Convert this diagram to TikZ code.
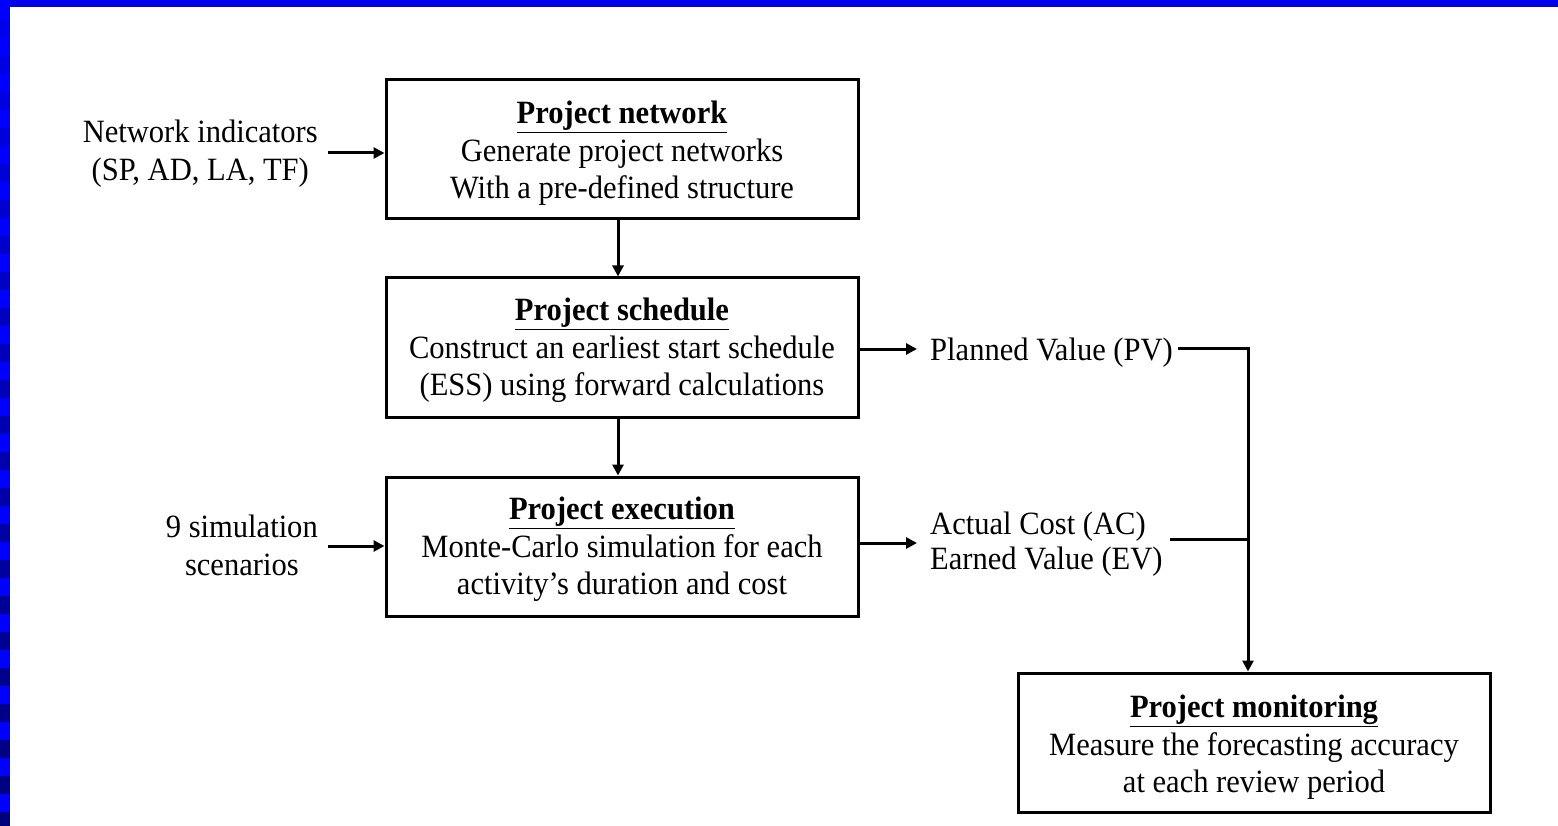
\documentclass[tikz,border=0pt]{standalone}
\usepackage{fontspec}
\setmainfont{Liberation Serif}[FakeStretch=0.94]
\usetikzlibrary{arrows.meta}
\tikzset{
  box/.style={draw=black, line width=3pt, minimum width=472pt, minimum height=139pt, inner sep=0pt, fill=white},
  txt/.style={inner sep=0pt, align=center, font=\fontsize{32.5}{37.5}\selectfont},
  lbl/.style={inner sep=0pt, font=\fontsize{32.5}{37.5}\selectfont},
  arr/.style={line width=3pt, -{Triangle[length=11pt,width=11pt]}},
  ln/.style={line width=3pt}
}
\newcommand{\ttl}[1]{\underline{\textbf{#1}}}
\begin{document}
\begin{tikzpicture}[x=1pt,y=-1pt]
\useasboundingbox (0,0) rectangle (1558,826);
\fill[white] (0,0) rectangle (1558,826);
% frame
\fill[blue!93!black] (0,0) rectangle (1558,7);
\fill[blue] (0,0) rectangle (10,826);
\foreach \i in {0,...,22} {
  \pgfmathsetmacro\p{int(92-\i*2)}
  \fill[blue!\p!black] (0,{\i*36+20}) rectangle (10,{\i*36+38});
}
% boxes
\node[box] (b1) at (622,149.5) {};
\node[box] (b2) at (622,347.5) {};
\node[box] (b3) at (622,546.5) {};
\node[box] (b4) at (1254,742.5) {};
\node[txt] (t1) at ([yshift=-4pt]b1.center) {\ttl{Project network}\\Generate project networks\\With a pre-defined structure};
\node[txt] (t2) at ([yshift=-3pt]b2.center) {\ttl{Project schedule}\\Construct an earliest start schedule\\(ESS) using forward calculations};
\node[txt] (t3) at ([yshift=-3pt]b3.center) {\ttl{Project execution}\\Monte-Carlo simulation for each\\activity’s duration and cost};
\node[txt] (t4) at ([yshift=-5pt]b4.center) {\ttl{Project monitoring}\\Measure the forecasting accuracy\\at each review period};
% side labels
\node[lbl, align=center, anchor=east] (ni) at (318,153.5) {Network indicators\\(SP, AD, LA, TF)};
\node[lbl, align=center, anchor=east] (ss) at (318,545.5) {9 simulation\\scenarios};
\node[lbl, anchor=west] (pv) at (930,353) {Planned Value (PV)};
\node[lbl, align=left, anchor=west, font=\fontsize{32.5}{35}\selectfont] (ae) at (930,544.5) {Actual Cost (AC)\\Earned Value (EV)};
\coordinate (j) at (1248,539);
% connectors
\draw[arr] (b1.south -| 618,0) -- (b2.north -| 618,0);
\draw[arr] (b2.south -| 618,0) -- (b3.north -| 618,0);
\draw[arr] ([xshift=10pt]ni.east |- 0,153) -- (b1.west |- 0,153);
\draw[arr] ([xshift=10pt]ss.east |- 0,546) -- (b3.west |- 0,546);
\draw[arr] (b2.east |- 0,349) -- ([xshift=-13pt]pv.west |- 0,349);
\draw[arr] (b3.east |- 0,543) -- ([xshift=-13pt]ae.west |- 0,543);
\draw[ln] ([xshift=5pt]pv.east |- 0,348) -| (j);
\draw[ln] ([xshift=7pt]ae.east |- j) -- (j);
\draw[arr] (j) -- (j |- b4.north);
\end{tikzpicture}
\end{document}
